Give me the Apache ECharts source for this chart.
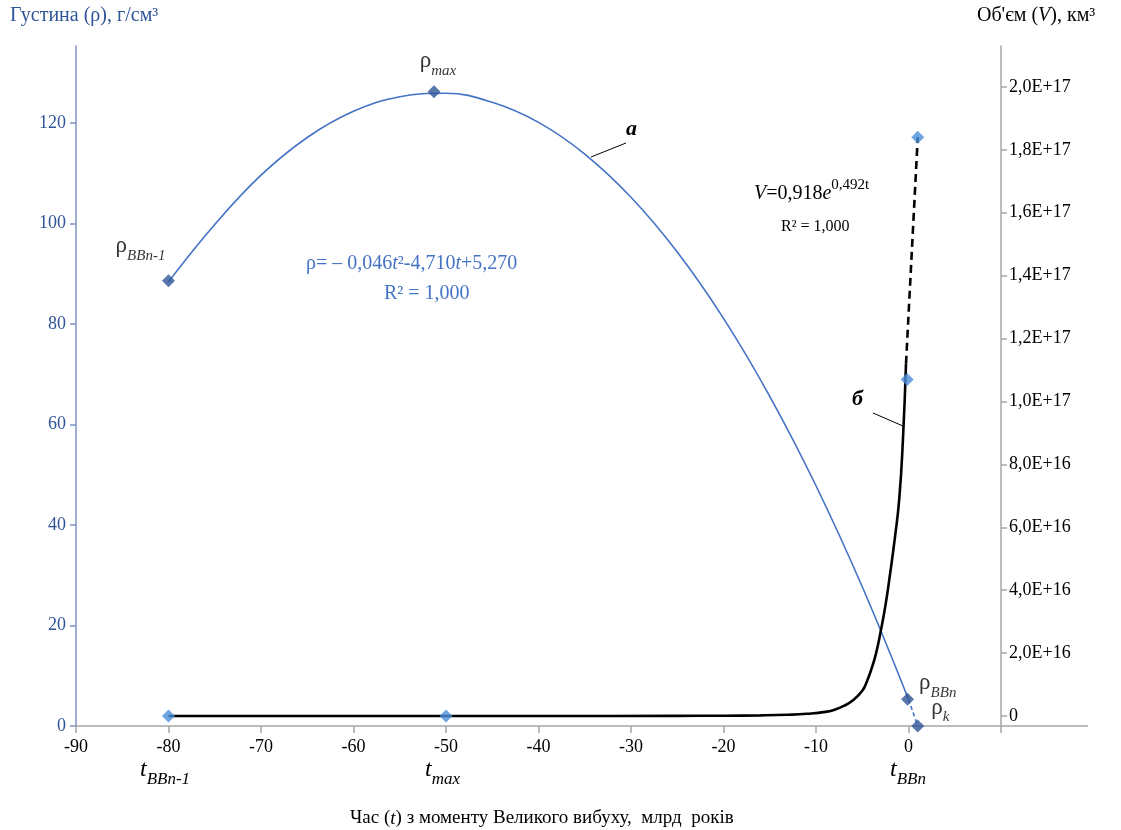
<!DOCTYPE html>
<html>
<head>
<meta charset="utf-8">
<script src="https://cdn.jsdelivr.net/npm/echarts@6/dist/echarts.min.js"></script>
<style>
  html, body { margin: 0; background: #fff; }
  #chart { width: 1121px; height: 830px; }
</style>
</head>
<body>
<div id="chart"></div>
<script>
// density trend (parabola)
var rhoFitT = [-80, -75, -70, -65, -60, -55, -50, -45, -40, -35, -30, -25, -20, -15, -10, -5, 0];
var rhoFitV = [88.4, 99.8, 109.6, 117.1, 122.3, 125.2, 125.9, 124.1, 120.1, 113.8, 105.2, 94.3, 81.1, 65.6, 47.8, 27.7, 5.3];
// short dashed tail from rho_BBn to rho_k
var rhoTailT = [0, 1.0];
var rhoTailV = [5.3, 0];
// density points
var rhoPtT = [-80, -51.3, -0.1, 1.0];
var rhoPtV = [88.6, 126.2, 5.3, 0];
var rhoPtNames = ['BBn-1', 'max', 'BBn', 'k'];

// volume trend (exponential)
var volFitT = [-80, -40, -25, -20, -16, -13, -11, -9, -8, -7, -6, -5, -4.5, -4, -3.5, -3, -2.5, -2, -1.5, -1, -0.6, -0.27];
var volFitV = [0, 0, 0.5e14, 1e14, 2e14, 4e14, 7e14, 1.3e15, 2e15, 3.2e15, 5e15, 8e15, 1.1e16, 1.5e16, 2e16, 2.7e16, 3.5e16, 4.5e16, 5.6e16, 6.9e16, 8.8e16, 1.12e17];
var volDashT = [-0.27, 1.0];
var volDashV = [1.12e17, 1.84e17];
// volume points
var volPtT = [-80, -50, -0.15, 1.0];
var volPtV = [0, 0, 1.07e17, 1.84e17];

// tick labels
var xTicks = [-90, -80, -70, -60, -50, -40, -30, -20, -10, 0, 10];
var xLabels = [-90, -80, -70, -60, -50, -40, -30, -20, -10, 0];
var rhoTicks = [0, 20, 40, 60, 80, 100, 120];
var volTicks = [0, 2e16, 4e16, 6e16, 8e16, 1e17, 1.2e17, 1.4e17, 1.6e17, 1.8e17, 2e17];

var serif = '"Liberation Serif", "DejaVu Serif", serif';
var darkBlue = '#2f5597';
var lineBlue = '#4472c4';
var lightBlue = '#4a8fd8';

function pairs(xs, ys) {
  return xs.map(function (x, i) { return [x, ys[i]]; });
}

function sci(v) {
  if (v === 0) return '0';
  var e = Math.floor(Math.log10(v) + 1e-9);
  var m = v / Math.pow(10, e);
  return m.toFixed(1).replace('.', ',') + 'E+' + e;
}

var subRich = {
  r: { fontFamily: serif, fontSize: 23, color: '#000', lineHeight: 22, padding: [0, 0, 6, 0], verticalAlign: 'bottom' },
  s: { fontFamily: serif, fontSize: 15, fontStyle: 'italic', color: '#000', lineHeight: 15, verticalAlign: 'bottom' }
};

var labelPos = {
  'BBn-1': { position: 'top', offset: [-28, -6] },
  'max': { position: 'top', offset: [4, -2] },
  'BBn': { position: 'right', offset: [0, -10] },
  'k': { position: 'right', offset: [2, -12] }
};

var rhoPts = rhoPtT.map(function (t, i) {
  var n = rhoPtNames[i];
  return {
    value: [t, rhoPtV[i]],
    label: {
      show: true,
      position: labelPos[n].position,
      offset: labelPos[n].offset,
      formatter: '{r|ρ}{s|' + n + '}',
      rich: subRich
    }
  };
});

var chartDom = document.getElementById('chart');
var myChart = echarts.init(chartDom);
var option;

option = {
  animation: false,
  grid: { left: 76, right: 120, top: 46, bottom: 104 },
  xAxis: {
    type: 'value',
    min: -90,
    max: 10,
    interval: 10,
    splitLine: { show: false },
    axisLine: { onZero: false, lineStyle: { color: '#a6a6a6', width: 1.5 } },
    axisTick: { length: 7, customValues: xTicks, lineStyle: { color: '#a6a6a6', width: 1.5 } },
    axisLabel: {
      customValues: xLabels,
      margin: 12,
      color: '#000',
      fontFamily: serif,
      fontSize: 18
    }
  },
  yAxis: [
    {
      type: 'value',
      min: 0,
      max: 135.3,
      splitLine: { show: false },
      axisLine: { show: true, onZero: false, lineStyle: { color: '#7f91c4', width: 1.5 } },
      axisTick: { show: true, length: 6, customValues: rhoTicks, lineStyle: { color: '#7f91c4', width: 1.5 } },
      axisLabel: {
        customValues: rhoTicks,
        margin: 10,
        color: darkBlue,
        fontFamily: serif,
        fontSize: 18
      }
    },
    {
      type: 'value',
      position: 'right',
      min: -3.18e15,
      max: 2.13e17,
      splitLine: { show: false },
      axisLine: { show: true, onZero: false, lineStyle: { color: '#a6a6a6', width: 1.5 } },
      axisTick: { show: true, length: 6, customValues: volTicks, lineStyle: { color: '#a6a6a6', width: 1.5 } },
      axisLabel: {
        customValues: volTicks,
        margin: 8,
        color: '#000',
        fontFamily: serif,
        fontSize: 18,
        formatter: sci
      }
    }
  ],
  series: [
    {
      name: 'rho-fit',
      type: 'line',
      yAxisIndex: 0,
      data: pairs(rhoFitT, rhoFitV),
      smooth: 0.4,
      showSymbol: false,
      lineStyle: { color: lineBlue, width: 1.6 },
      z: 3
    },
    {
      name: 'rho-tail',
      type: 'line',
      yAxisIndex: 0,
      data: pairs(rhoTailT, rhoTailV),
      showSymbol: false,
      lineStyle: { color: lineBlue, width: 1.6, type: [4, 3] },
      z: 3
    },
    {
      name: 'V-fit',
      type: 'line',
      yAxisIndex: 1,
      data: pairs(volFitT, volFitV),
      smooth: 0.5,
      showSymbol: false,
      lineStyle: { color: '#000', width: 2.6 },
      z: 4
    },
    {
      name: 'V-dash',
      type: 'line',
      yAxisIndex: 1,
      data: pairs(volDashT, volDashV),
      showSymbol: false,
      lineStyle: { color: '#000', width: 2.6, type: [8, 5] },
      z: 4
    },
    {
      name: 'V',
      type: 'scatter',
      yAxisIndex: 1,
      data: pairs(volPtT, volPtV),
      symbol: 'diamond',
      symbolSize: 13,
      itemStyle: { color: lightBlue },
      z: 5
    },
    {
      name: 'rho',
      type: 'scatter',
      yAxisIndex: 0,
      data: rhoPts,
      symbol: 'diamond',
      symbolSize: 13,
      itemStyle: { color: darkBlue },
      z: 6
    }
  ],
  graphic: [
    // extension of x-axis line past right axis
    { type: 'line', shape: { x1: 1001, y1: 726, x2: 1088, y2: 726 }, style: { stroke: '#a6a6a6', lineWidth: 1.5 } },
    // axis titles
    {
      type: 'text', left: 10, top: 6,
      style: { text: 'Густина (ρ), г/см³', fill: darkBlue, font: '20px ' + serif }
    },
    {
      type: 'text', left: 977, top: 6,
      style: {
        text: '{n|Об\'єм (}{i|V}{n|), км³}',
        rich: {
          n: { fontFamily: serif, fontSize: 20, fill: '#000' },
          i: { fontFamily: serif, fontSize: 20, fontStyle: 'italic', fill: '#000' }
        }
      }
    },
    {
      type: 'text', left: 350, top: 809,
      style: {
        text: '{n|Час (}{i|t}{n|) з моменту Великого вибуху,  млрд  років}',
        rich: {
          n: { fontFamily: serif, fontSize: 19, fill: '#000' },
          i: { fontFamily: serif, fontSize: 19, fontStyle: 'italic', fill: '#000' }
        }
      }
    },
    // t labels under the axis
    {
      type: 'text', left: 140, top: 758,
      style: {
        text: '{t|t}{s|BBn-1}',
        rich: {
          t: { fontFamily: serif, fontSize: 24, fontStyle: 'italic', fill: '#000', lineHeight: 24, padding: [0, 0, 6, 0], verticalAlign: 'bottom' },
          s: { fontFamily: serif, fontSize: 17, fontStyle: 'italic', fill: '#000', lineHeight: 17, verticalAlign: 'bottom' }
        }
      }
    },
    {
      type: 'text', left: 425, top: 758,
      style: {
        text: '{t|t}{s|max}',
        rich: {
          t: { fontFamily: serif, fontSize: 24, fontStyle: 'italic', fill: '#000', lineHeight: 24, padding: [0, 0, 6, 0], verticalAlign: 'bottom' },
          s: { fontFamily: serif, fontSize: 17, fontStyle: 'italic', fill: '#000', lineHeight: 17, verticalAlign: 'bottom' }
        }
      }
    },
    {
      type: 'text', left: 890, top: 758,
      style: {
        text: '{t|t}{s|BBn}',
        rich: {
          t: { fontFamily: serif, fontSize: 24, fontStyle: 'italic', fill: '#000', lineHeight: 24, padding: [0, 0, 6, 0], verticalAlign: 'bottom' },
          s: { fontFamily: serif, fontSize: 17, fontStyle: 'italic', fill: '#000', lineHeight: 17, verticalAlign: 'bottom' }
        }
      }
    },
    // equations
    {
      type: 'text', left: 306, top: 254,
      style: {
        text: '{n|ρ= – 0,046}{i|t}{n|²-4,710}{i|t}{n|+5,270}',
        rich: {
          n: { fontFamily: serif, fontSize: 20, fill: lineBlue },
          i: { fontFamily: serif, fontSize: 20, fontStyle: 'italic', fill: lineBlue }
        }
      }
    },
    {
      type: 'text', left: 384, top: 284,
      style: { text: 'R² = 1,000', fill: lineBlue, font: '20px ' + serif }
    },
    {
      type: 'text', left: 754, top: 178,
      style: {
        text: '{i|V}{n|=0,918}{i|e}{p|0,492t}',
        rich: {
          n: { fontFamily: serif, fontSize: 20, fill: '#000', verticalAlign: 'bottom', lineHeight: 24 },
          i: { fontFamily: serif, fontSize: 20, fontStyle: 'italic', fill: '#000', verticalAlign: 'bottom', lineHeight: 24 },
          p: { fontFamily: serif, fontSize: 15, fill: '#000', verticalAlign: 'bottom', lineHeight: 15, padding: [0, 0, 11, 0] }
        }
      }
    },
    {
      type: 'text', left: 781, top: 219,
      style: { text: 'R² = 1,000', fill: '#000', font: '16px ' + serif }
    },
    // curve captions with leader lines
    { type: 'line', shape: { x1: 591, y1: 157, x2: 626, y2: 143 }, style: { stroke: '#000', lineWidth: 1 } },
    {
      type: 'text', left: 626, top: 118,
      style: { text: 'а', fill: '#000', font: 'italic bold 22px ' + serif }
    },
    { type: 'line', shape: { x1: 873, y1: 413, x2: 903, y2: 426 }, style: { stroke: '#000', lineWidth: 1 } },
    {
      type: 'text', left: 852, top: 388,
      style: { text: 'б', fill: '#000', font: 'italic bold 22px ' + serif }
    }
  ]
};

option && myChart.setOption(option);
</script>
</body>
</html>
